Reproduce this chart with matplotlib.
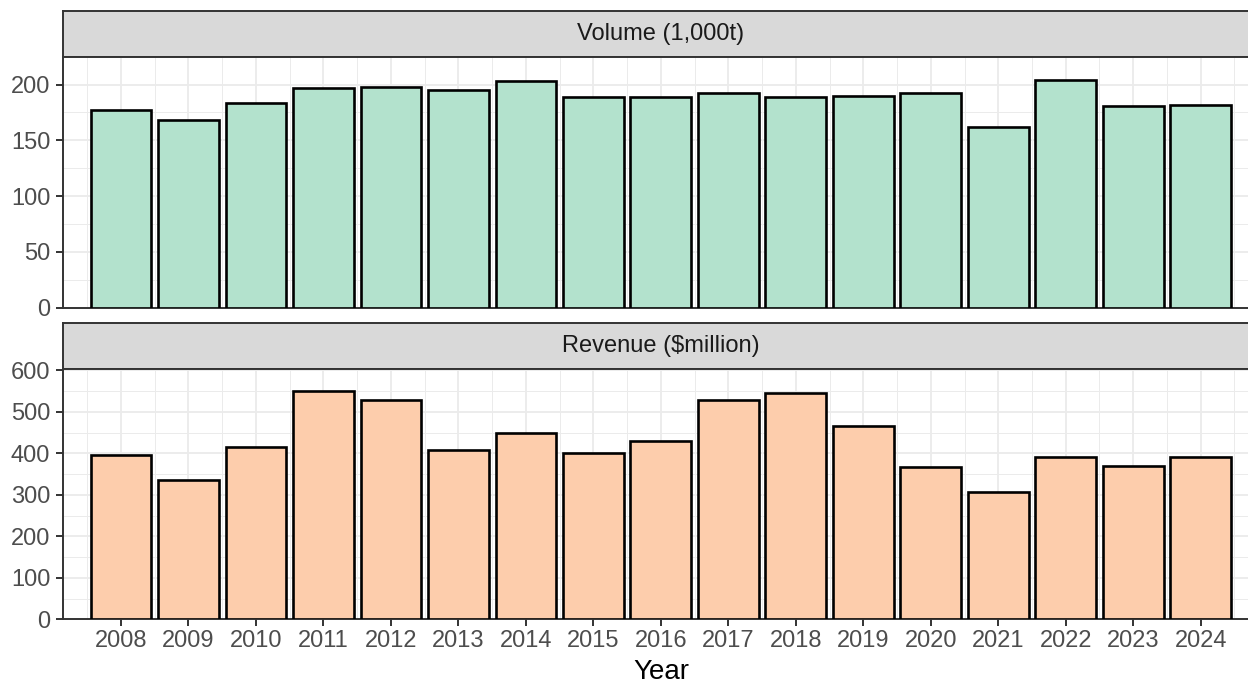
import matplotlib
matplotlib.use("Agg")
import matplotlib.pyplot as plt
from matplotlib.ticker import MultipleLocator

# data
years = [2008, 2009, 2010, 2011, 2012, 2013, 2014, 2015, 2016,
         2017, 2018, 2019, 2020, 2021, 2022, 2023, 2024]
volume = [177, 168, 183, 197, 198, 195, 203, 189, 189,
          192, 189, 190, 192, 162, 204, 181, 182]
revenue = [397, 336, 416, 549, 528, 407, 449, 401, 430,
           528, 546, 465, 366, 306, 390, 369, 390]
panel_titles = ["Volume (1,000t)", "Revenue ($million)"]

plt.rcParams['font.family'] = ['Liberation Sans', 'DejaVu Sans']

W, H = 1248, 685
fig = plt.figure(figsize=(W / 100, H / 100), dpi=100)


def px_axes(x0, y0, x1, y1):
    # pixel box (top-left origin) -> figure axes
    return fig.add_axes([x0 / W, 1 - y1 / H, (x1 - x0) / W, (y1 - y0) / H])


LEFT, RIGHT = 62.7, 1259
dark = '#333333'
panels = [
    (volume, '#B3E2CD', 50, 25, (10.7, 57.3, 307.7)),
    (revenue, '#FDCDAC', 100, 50, (323.3, 368.7, 619.3)),
]

for i, (vals, col, major, minor, (s_top, p_top, p_bot)) in enumerate(panels):
    # strip
    sax = px_axes(LEFT, s_top, RIGHT, p_top)
    sax.set_facecolor('#D9D9D9')
    sax.set_xticks([])
    sax.set_yticks([])
    for sp in sax.spines.values():
        sp.set_color(dark)
        sp.set_linewidth(1.4)
    sax.text(0.5, 0.5, panel_titles[i], transform=sax.transAxes,
             ha='center', va='center', fontsize=17, color='#1A1A1A')

    ax = px_axes(LEFT, p_top, RIGHT, p_bot)
    ax.bar(years, vals, width=0.9, color=col, edgecolor='black',
           linewidth=1.9, zorder=3)
    ax.set_xlim(2007.136, 2024.864)
    ax.set_ylim(0, max(vals) * 1.1)
    ax.set_axisbelow(True)
    ax.yaxis.set_major_locator(MultipleLocator(major))
    ax.yaxis.set_minor_locator(MultipleLocator(minor))
    ax.set_xticks(years)
    ax.xaxis.set_minor_locator(MultipleLocator(0.5))
    ax.grid(which='major', color='#EBEBEB', linewidth=1.3)
    ax.grid(which='minor', color='#EBEBEB', linewidth=0.7)
    for sp in ax.spines.values():
        sp.set_color(dark)
        sp.set_linewidth(1.4)
    ax.tick_params(which='minor', length=0)
    ax.tick_params(axis='y', which='major', length=5, width=1.4, color=dark,
                   labelsize=17, labelcolor='#4D4D4D', pad=4)
    if i == 0:
        ax.tick_params(axis='x', which='major', length=0, labelbottom=False)
    else:
        ax.tick_params(axis='x', which='major', length=5, width=1.4, color=dark,
                       labelsize=17, labelcolor='#4D4D4D', pad=3)

fig.text(LEFT / W + (RIGHT - LEFT) / 2 / W, 6 / H, 'Year', ha='center',
         va='baseline', fontsize=20, color='black')

fig.savefig('out.png', dpi=100)
